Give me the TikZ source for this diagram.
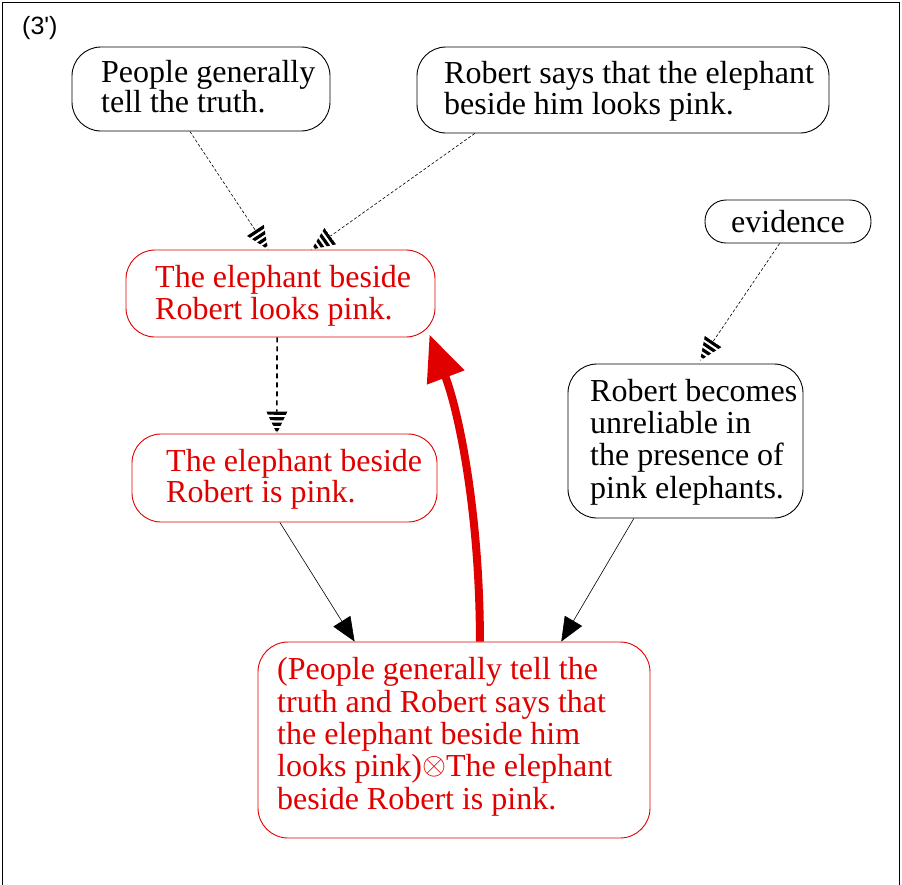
\documentclass[tikz,border=0pt]{standalone}
\usepackage{fontspec}
\setmainfont{Liberation Serif}
\newfontfamily\tagfont{Liberation Sans}[Ligatures=TeXOff]
\usetikzlibrary{arrows.meta,calc,decorations.markings}
\definecolor{claimred}{RGB}{224,0,0}

% striped cone used as the head of the support links (tip at the origin, pointing along +x)
\newcommand\stripecone[2]{%
  \fill[white] (0,0) -- (-#1,#2) -- (-#1,-#2) -- cycle;
  \begin{scope}
    \clip (0,0) -- (-#1,#2) -- (-#1,-#2) -- cycle;
    \foreach \k in {0,...,3}{\fill[black] ({-#1+\k*5.5},{-#2-1}) rectangle ({-#1+\k*5.5+3.2},{#2+1});}
  \end{scope}}

% thin circled times, sized to the surrounding text
\newcommand\circtimes{\raisebox{2.5pt}{\resizebox{24pt}{!}{$\otimes$}}}

\tikzset{
  box/.style={draw, line width=0.9pt, rounded corners=29pt, inner sep=0pt},
  redbox/.style={box, draw=claimred},
  txt/.style={inner sep=0pt, align=left, anchor=base west},
  support/.style={line width=0.6pt, dash pattern=on 3pt off 2pt,
    postaction={decorate, decoration={markings, mark=at position 1 with {\stripecone{23}{10}}}}},
  strongsupport/.style={line width=1.6pt, dash pattern=on 5pt off 4pt,
    postaction={decorate, decoration={markings, mark=at position 1 with {\stripecone{22}{10.5}}}}},
  infer/.style={line width=0.6pt, -{Triangle[length=24pt,width=20pt]}},
  attack/.style={claimred, line width=8pt, -{Triangle[length=46pt,width=38pt]}}
}

\begin{document}
\begin{tikzpicture}[x=1pt,y=1pt]
\useasboundingbox (0,0) rectangle (902,-884);
\draw[line width=1pt] (2,-2) rectangle (899,-900);

\node[txt, font=\tagfont\fontsize{25}{25}\selectfont] (tag) at (22,-34) {(3')};

% boxes (text nodes are anchored at the baseline of their last line)
\node[box, minimum width=258pt, minimum height=84pt] (A) at (201,-89) {};
\node[txt, font=\fontsize{32}{30}\selectfont] (At) at (101,-112) {People generally\\tell the truth.};

\node[box, minimum width=412pt, minimum height=86pt] (B) at (623,-90) {};
\node[txt, font=\fontsize{32}{31}\selectfont] (Bt) at (444,-114) {Robert says that the elephant\\beside him looks pink.};

\node[box, rounded corners=21pt, minimum width=166pt, minimum height=43pt,
      font=\fontsize{32}{32}\selectfont] (ev) at (788,-221.5) {evidence};

\node[redbox, minimum width=309pt, minimum height=87pt] (C) at (280.5,-293.5) {};
\node[txt, text=claimred, font=\fontsize{32}{32}\selectfont] (Ct) at (155,-319) {The elephant beside\\Robert looks pink.};

\node[redbox, minimum width=305pt, minimum height=88pt] (D) at (284.5,-478) {};
\node[txt, text=claimred, font=\fontsize{32}{31}\selectfont] (Dt) at (166,-502) {The elephant beside\\Robert is pink.};

\node[box, minimum width=235pt, minimum height=154pt] (E) at (685.5,-441) {};
\node[txt, font=\fontsize{32}{32.3}\selectfont] (Et) at (590,-498) {Robert becomes\\unreliable in\\the presence of\\pink elephants.};

\node[redbox, rounded corners=30pt, minimum width=392pt, minimum height=196pt] (F) at (454,-740) {};
\node[txt, text=claimred, font=\fontsize{32}{32.3}\selectfont] (Ft) at (277,-809)
  {(People generally tell the\\truth and Robert says that\\the elephant beside him\\looks pink)\circtimes The elephant\\beside Robert is pink.};

% links
\draw[support] ($(A.south west)!0.457!(A.south east)$) -- ($(C.north west)!0.46!(C.north east)$);
\draw[support] ($(B.south west)!0.141!(B.south east)$) -- ($(C.north west)!0.60!(C.north east)$);
\draw[support] ($(ev.south west)!0.45!(ev.south east)$) -- ($(E.north west)!0.562!(E.north east)+(0,3)$);
\draw[strongsupport] ($(C.south west)!0.489!(C.south east)$) -- ($(D.north west)!0.475!(D.north east)$);
\draw[infer] ($(D.south west)!0.485!(D.south east)$) -- ($(F.north west)!0.247!(F.north east)$);
\draw[infer] ($(E.south west)!0.281!(E.south east)$) -- ($(F.north west)!0.773!(F.north east)$);
\draw[attack] ($(F.north west)!0.566!(F.north east)$) .. controls +(0,122) and +(31,-82) .. ($(C.south east)+(-6,3)$);
\end{tikzpicture}
\end{document}
